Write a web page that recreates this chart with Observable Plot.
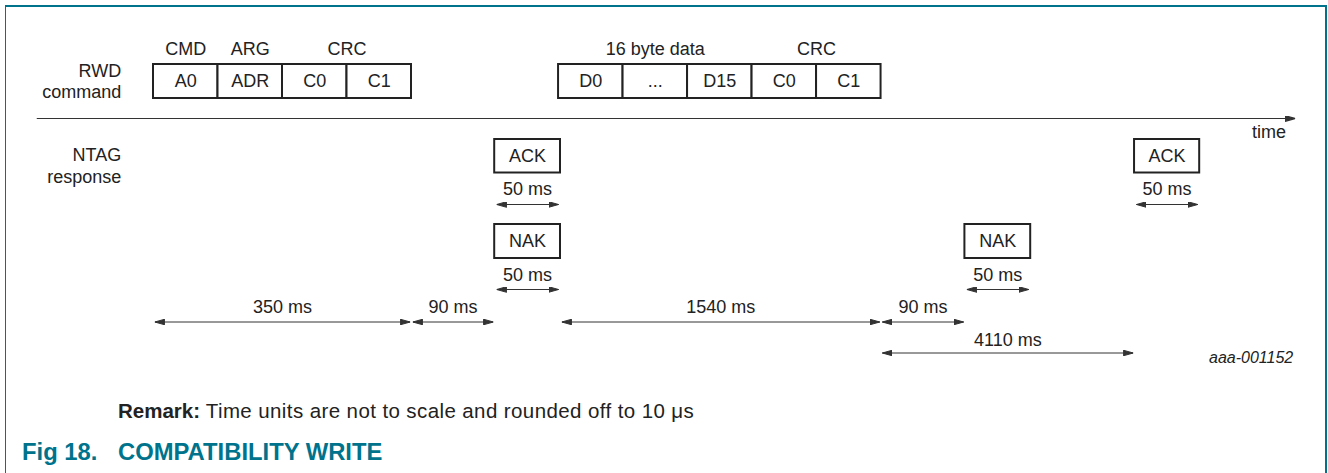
<!DOCTYPE html>
<html>
<head>
<meta charset="utf-8">
<script src="https://cdn.jsdelivr.net/npm/d3@7"></script>
<script src="https://cdn.jsdelivr.net/npm/@observablehq/plot@0.6"></script>
<style>
  html, body { margin: 0; padding: 0; background: #fff; width: 1328px; height: 473px; overflow: hidden; }
  body { position: relative; font-family: "Liberation Sans", Arial, Helvetica, sans-serif; color: #222; }
  #chart { position: absolute; left: 0; top: 0; }
  #frame { position: absolute; left: 5px; top: 5px; width: 1322px; height: 480px; box-sizing: border-box;
           border-top: 2px solid #00738c; border-left: 1.5px solid #00738c; border-right: 2px solid #00738c;
           pointer-events: none; z-index: 2; }
  #remark { position: absolute; left: 118px; top: 399px; font-size: 20.5px; line-height: 24px; white-space: nowrap; }
  #remark .rest { letter-spacing: 0.4px; }
  #title { position: absolute; left: 22px; top: 438px; font-size: 23.8px; line-height: 28px; font-weight: bold; color: #00738c; white-space: nowrap; }
  #title .num { display: inline-block; width: 96px; }
</style>
</head>
<body>
<div id="chart"></div>
<div id="frame"></div>
<div id="remark"><b>Remark:</b><span class="rest"> Time units are not to scale and rounded off to 10 μs</span></div>
<div id="title"><span class="num">Fig 18.</span>COMPATIBILITY WRITE</div>
<script>
// ---- data (timeline measured in byte-slot units) ----
const commandCells = ["A0", "ADR", "C0", "C1"];
const commandHeaders = [
  {label: "CMD", from: 0, to: 1},
  {label: "ARG", from: 1, to: 2},
  {label: "CRC", from: 2, to: 4}
];
const commandStart = 0;

const dataCells = ["D0", "...", "D15", "C0", "C1"];
const dataHeaders = [
  {label: "16 byte data", from: 0, to: 3},
  {label: "CRC", from: 3, to: 5}
];
const dataStart = 6.28;

const responses = [
  {label: "ACK", lane: "ack", start: 5.29, end: 6.31, duration: "50 ms"},
  {label: "NAK", lane: "nak", start: 5.29, end: 6.31, duration: "50 ms"},
  {label: "NAK", lane: "nak", start: 12.58, end: 13.6, duration: "50 ms"},
  {label: "ACK", lane: "ack", start: 15.21, end: 16.22, duration: "50 ms"}
];

const intervals = [
  {label: "350 ms", lane: "gap", from: 0, to: 4},
  {label: "90 ms", lane: "gap", from: 4, to: 5.29},
  {label: "1540 ms", lane: "gap", from: 6.31, to: 11.28},
  {label: "90 ms", lane: "gap", from: 11.28, to: 12.58},
  {label: "4110 ms", lane: "total", from: 11.28, to: 15.21}
];

const rowLabels = [
  {label: "RWD", line: "rwd"},
  {label: "command", line: "command"},
  {label: "NTAG", line: "ntag"},
  {label: "response", line: "response"}
];

const timeAxis = {from: -1.81, to: 17.7, label: "time"};
const figureId = "aaa-001152";

// ---- layout ----
const W = 1328, H = 385;
const Y = {
  header: 49, cellTop: 64, cellBottom: 98, cell: 81,
  axis: 118, timeLabel: 132,
  ack: {top: 139, bottom: 172.5, dur: 189, arrow: 204},
  nak: {top: 224, bottom: 258, dur: 274.5, arrow: 289},
  gap: {label: 306.5, arrow: 321.5},
  total: {label: 339.5, arrow: 352.5},
  id: 357,
  rwd: 71, command: 92, ntag: 155, response: 177
};
const labelX = -0.5;
const ink = "#222", lineInk = "#333";
const font = "Liberation Sans, Arial, Helvetica, sans-serif";

const cells = [
  ...commandCells.map((c, i) => ({label: c, x1: commandStart + i, x2: commandStart + i + 1})),
  ...dataCells.map((c, i) => ({label: c, x1: dataStart + i, x2: dataStart + i + 1}))
];
const headers = [
  ...commandHeaders.map(h => ({label: h.label, x: commandStart + (h.from + h.to) / 2})),
  ...dataHeaders.map(h => ({label: h.label, x: dataStart + (h.from + h.to) / 2}))
];

function filledArrow(color, context) {
  const doc = (context && context.document) || document;
  const ns = "http://www.w3.org/2000/svg";
  const m = doc.createElementNS(ns, "marker");
  m.setAttribute("viewBox", "-10 -3 10 6");
  m.setAttribute("markerWidth", 10);
  m.setAttribute("markerHeight", 6);
  m.setAttribute("refX", 0);
  m.setAttribute("refY", 0);
  m.setAttribute("markerUnits", "userSpaceOnUse");
  m.setAttribute("orient", "auto-start-reverse");
  const p = doc.createElementNS(ns, "path");
  p.setAttribute("d", "M0,0L-10,-2.8L-10,2.8Z");
  p.setAttribute("fill", color);
  m.appendChild(p);
  return m;
}

const txt = {fill: ink, fontSize: 18, fontFamily: font};

const plot = Plot.plot({
  width: W, height: H,
  marginTop: 0, marginRight: 0, marginBottom: 0, marginLeft: 0,
  style: {fontFamily: font, background: "transparent"},
  x: {domain: [-153 / 64.5, (W - 153) / 64.5], range: [0, W], axis: null},
  y: {domain: [0, H], range: [0, H], axis: null},
  marks: [
    // frames of the reader command
    Plot.rect(cells, {x1: "x1", x2: "x2", y1: Y.cellTop, y2: Y.cellBottom, fill: "white", stroke: ink, strokeWidth: 2}),
    Plot.text(cells, {x: d => (d.x1 + d.x2) / 2, y: Y.cell, text: "label", ...txt}),
    Plot.text(headers, {x: "x", y: Y.header, text: "label", ...txt}),
    // row labels
    Plot.text(rowLabels, {x: labelX, y: d => Y[d.line], text: "label", textAnchor: "end", ...txt}),
    // time axis
    Plot.link([timeAxis], {x1: "from", x2: "to", y1: Y.axis, y2: Y.axis, stroke: lineInk, strokeWidth: 1.2, markerEnd: filledArrow}),
    Plot.text([timeAxis], {x: d => d.to - 0.14, y: Y.timeLabel, text: "label", textAnchor: "end", ...txt}),
    // tag responses
    Plot.rect(responses, {x1: "start", x2: "end", y1: d => Y[d.lane].top, y2: d => Y[d.lane].bottom, fill: "white", stroke: ink, strokeWidth: 2}),
    Plot.text(responses, {x: d => (d.start + d.end) / 2, y: d => (Y[d.lane].top + Y[d.lane].bottom) / 2, text: "label", ...txt}),
    Plot.text(responses, {x: d => (d.start + d.end) / 2, y: d => Y[d.lane].dur, text: "duration", ...txt}),
    Plot.link(responses, {x1: d => d.start + 0.03, x2: d => d.end - 0.03, y1: d => Y[d.lane].arrow, y2: d => Y[d.lane].arrow, stroke: lineInk, strokeWidth: 1, markerStart: filledArrow, markerEnd: filledArrow}),
    // timing intervals
    Plot.link(intervals, {x1: d => d.from + 0.02, x2: d => d.to - 0.02, y1: d => Y[d.lane].arrow, y2: d => Y[d.lane].arrow, stroke: lineInk, strokeWidth: 1, markerStart: filledArrow, markerEnd: filledArrow}),
    Plot.text(intervals, {x: d => (d.from + d.to) / 2, y: d => Y[d.lane].label, text: "label", ...txt}),
    // figure id
    Plot.text([figureId], {x: timeAxis.to - 0.03, y: Y.id, text: d => d, textAnchor: "end", fontStyle: "italic", fontSize: 16, fill: ink, fontFamily: font})
  ]
});
document.getElementById("chart").appendChild(plot);
</script>
</body>
</html>
